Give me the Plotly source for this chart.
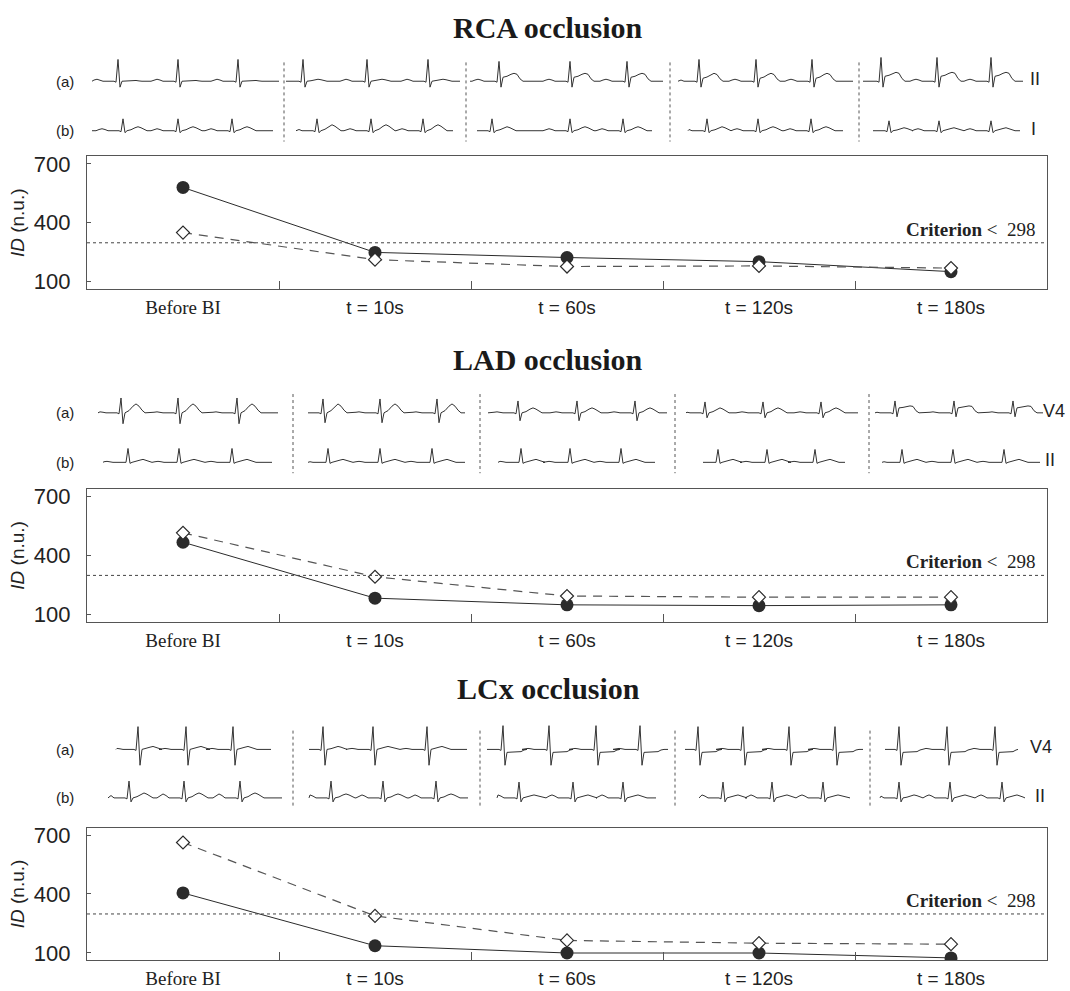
import plotly.graph_objects as go

W, H = 1070, 991

# ---------------- data ----------------
PANEL_TITLES = ["RCA occlusion", "LAD occlusion", "LCx occlusion"]
TIME_LABELS = ["Before BI", "t = 10s", "t = 60s", "t = 120s", "t = 180s"]
Y_TICKS = [100, 400, 700]
CRITERION = 298

RCA_LEAD_A = [580, 249, 223, 202, 151]   # filled circles, solid
RCA_LEAD_B = [350, 212, 177, 180, 169]   # open diamonds, dashed
LAD_LEAD_A = [467, 182, 148, 144, 148]
LAD_LEAD_B = [515, 291, 193, 187, 187]
LCX_LEAD_A = [405, 136, 99, 99, 74]
LCX_LEAD_B = [662, 288, 163, 149, 144]

SERIES_A = [RCA_LEAD_A, LAD_LEAD_A, LCX_LEAD_A]
SERIES_B = [RCA_LEAD_B, LAD_LEAD_B, LCX_LEAD_B]

LEAD_NAMES_A = ["II", "V4", "V4"]
LEAD_NAMES_B = ["I", "II", "II"]

# ECG strips: (start, end, R-peak positions, P, Q, R, S, ST, T)
RCA_ECG_A = [(92, 279, [118, 178, 238], 2, 1, 22, 6, 0, 1),
             (286, 460, [303, 367, 428], 2, 1, 22, 6, 0, 2),
             (470, 663, [499, 570, 627], 2, 1, 20, 6, 4, 4),
             (678, 853, [699, 756, 812], 2, 1, 22, 6, 3, 5),
             (863, 1023, [881, 937, 991], 2, 1, 24, 6, 5, 4)]
RCA_ECG_B = [(92, 273, [123, 178, 232], 2, 1, 12, 2, 0, 4),
             (296, 453, [317, 371, 423], 2, 1, 12, 2, 0, 6),
             (477, 652, [492, 570, 623], 2, 1, 12, 2, 0, 4),
             (688, 843, [707, 758, 811], 2, 1, 12, 2, 0, 4),
             (873, 1020, [889, 939, 991], 2, 1, 10, 2, 0, 3)]
LAD_ECG_A = [(98, 278, [121, 178, 237], 1, 1, 15, 11, 0, 9),
             (308, 465, [323, 380, 437], 1, 1, 14, 10, 0, 9),
             (488, 667, [518, 577, 635], 1, 1, 12, 8, 0, 5),
             (686, 858, [705, 763, 821], 1, 1, 11, 5, 0, 5),
             (875, 1043, [895, 954, 1013], 1, 1, 12, 4, 5, 2)]
LAD_ECG_B = [(103, 272, [128, 179, 232], 1, 0, 14, 1, 0, 3),
             (308, 465, [328, 380, 432], 1, 0, 14, 1, 0, 3),
             (498, 655, [521, 570, 621], 1, 0, 14, 1, 0, 3),
             (703, 845, [718, 767, 815], 1, 0, 13, 1, 0, 3),
             (882, 1040, [902, 953, 1004], 1, 0, 13, 1, 0, 3)]
LCX_ECG_A = [(116, 271, [138, 186, 233], 1, 1, 23, 16, 0, 3),
             (309, 467, [323, 373, 427], 1, 1, 23, 16, 0, 3),
             (487, 668, [503, 549, 596, 640], 1, 1, 24, 16, -3, 1),
             (685, 863, [698, 743, 789, 835], 1, 1, 23, 16, -3, 1),
             (885, 1018, [899, 947, 995], 1, 1, 23, 16, -3, 1)]
LCX_ECG_B = [(108, 282, [129, 184, 240], 4, 1, 17, 4, 0, 5),
             (309, 468, [331, 383, 436], 3, 1, 17, 4, 0, 4),
             (497, 656, [519, 573, 623], 3, 1, 16, 4, 0, 3),
             (699, 850, [723, 772, 823], 3, 1, 16, 4, 0, 3),
             (880, 1025, [899, 950, 1002], 3, 1, 16, 4, 0, 3)]
ECG_ROWS = [(RCA_ECG_A, RCA_ECG_B), (LAD_ECG_A, LAD_ECG_B), (LCX_ECG_A, LCX_ECG_B)]

# ---------------- layout geometry (pixels) ----------------
PLOT_X = (87, 1047)
PLOT_Y = [(153, 287), (489, 623), (831, 965)]
Y_RANGE = (62, 738)
TITLE_Y = [23, 358, 690]
ECG_BASE = [(77, 127), (412, 462), (752, 801)]
SEPARATORS = [([284, 466, 670, 859], 58, 138),
              ([293, 480, 675, 869], 393, 473),
              ([293, 480, 675, 870], 733, 810)]
LEAD_X = [(1035, 1033), (1054, 1050), (1041, 1040)]

INK = "#2b2b2b"
FRAME = "#555555"
SANS = "Liberation Sans"
SERIF = "Liberation Serif"


def pf(px):
    return 1 - px / H


def beat_points(r, P, Q, R, S, ST, T):
    tpl = [(-27, 0), (-24, 0.6 * P), (-21, P), (-18, 0.6 * P), (-15, 0),
           (-4, 0), (-2, -Q), (0, R), (2, -S), (4, ST),
           (8, ST + 0.25 * T), (12, ST + 0.75 * T), (15, ST + T),
           (18, ST + 0.75 * T), (21, 0.3 * (ST + T)), (24, 0)]
    return [(r + dx, a) for dx, a in tpl]


fig = go.Figure()

# ECG canvas (pixel-scaled overlay axes)
for p, rows in enumerate(ECG_ROWS):
    for row, base in zip(rows, ECG_BASE[p]):
        xs, ys = [], []
        for (start, end, beats, P, Q, R, S, ST, T) in row:
            pts = [(start, 0)]
            for r in beats:
                pts += [(x, a) for x, a in beat_points(r, P, Q, R, S, ST, T) if start < x < end]
            pts.append((end, 0))
            xs += [x for x, _ in pts] + [None]
            ys += [base - a for _, a in pts] + [None]
        fig.add_trace(go.Scatter(x=xs, y=ys, mode="lines", xaxis="x4", yaxis="y4",
                                 line=dict(color="#333333", width=1), hoverinfo="skip",
                                 showlegend=False))

tick_text = ['<span style="font-family:%s">%s</span>' % (SERIF, TIME_LABELS[0])] + TIME_LABELS[1:]
xs_cat = list(range(len(TIME_LABELS)))

layout_axes = {}
shapes = []
annotations = []
for p in range(3):
    xa = "x" if p == 0 else "x%d" % (p + 1)
    ya = "y" if p == 0 else "y%d" % (p + 1)
    xkey = "xaxis" if p == 0 else "xaxis%d" % (p + 1)
    ykey = "yaxis" if p == 0 else "yaxis%d" % (p + 1)

    fig.add_trace(go.Scatter(x=xs_cat, y=SERIES_A[p], mode="lines+markers", xaxis=xa, yaxis=ya,
                             line=dict(color=INK, width=1),
                             marker=dict(symbol="circle", size=13, color=INK),
                             showlegend=False))
    fig.add_trace(go.Scatter(x=xs_cat, y=SERIES_B[p], mode="lines+markers", xaxis=xa, yaxis=ya,
                             line=dict(color="#555555", width=1.2, dash="9px,7px"),
                             marker=dict(symbol="diamond", size=10, color="white",
                                         line=dict(color=INK, width=1.2)),
                             showlegend=False))

    y0, y1 = PLOT_Y[p]
    layout_axes[xkey] = dict(domain=[PLOT_X[0] / W, PLOT_X[1] / W], anchor=ya,
                             range=[-0.5, 4.5], tickmode="array", tickvals=xs_cat,
                             ticktext=tick_text, ticks="", showline=True, mirror=True,
                             linecolor=FRAME, linewidth=1.2, showgrid=False, zeroline=False,
                             ticklabelstandoff=1,
                             tickfont=dict(family=SANS, size=19, color="#222222"),
                             minor=dict(tickmode="array", tickvals=[0.5, 1.5, 2.5, 3.5],
                                        ticks="inside", ticklen=8, tickcolor=FRAME,
                                        tickwidth=1, showgrid=False),
                             fixedrange=True)
    layout_axes[ykey] = dict(domain=[pf(y1), pf(y0)], anchor=xa, range=list(Y_RANGE),
                             tickmode="array", tickvals=Y_TICKS, ticks="inside", ticklen=4,
                             tickcolor=FRAME, showline=True, mirror=True, linecolor=FRAME,
                             linewidth=1.2, showgrid=False, zeroline=False,
                             ticklabelstandoff=11,
                             tickfont=dict(family=SANS, size=22, color="#222222"),
                             title=dict(text="<i>ID</i> (n.u.)", standoff=4,
                                        font=dict(family=SANS, size=19, color="#222222")),
                             fixedrange=True)

    # criterion line
    shapes.append(dict(type="line", xref=xa, yref=ya, x0=-0.5, x1=4.5, y0=CRITERION,
                       y1=CRITERION, line=dict(color="#444444", width=1, dash="dot")))
    annotations.append(dict(xref="%s domain" % xa, yref=ya, x=0.99, y=CRITERION,
                            xanchor="right", yanchor="bottom", yshift=1, showarrow=False,
                            text="<b>Criterion</b> &lt;  %d" % CRITERION,
                            font=dict(family=SERIF, size=19, color="#222222")))
    # panel title
    annotations.append(dict(xref="paper", yref="paper", x=548 / W, y=pf(TITLE_Y[p]),
                            xanchor="center", yanchor="middle", showarrow=False,
                            text="<b>%s</b>" % PANEL_TITLES[p],
                            font=dict(family=SERIF, size=30, color="#1a1a1a")))
    # ECG row labels and lead names
    ba, bb = ECG_BASE[p]
    for lab, yy in (("(a)", ba), ("(b)", bb)):
        annotations.append(dict(xref="x4", yref="y4", x=65, y=yy, showarrow=False,
                                xanchor="center", yanchor="middle", text=lab,
                                font=dict(family=SANS, size=15, color="#222222")))
    annotations.append(dict(xref="x4", yref="y4", x=LEAD_X[p][0], y=ba - 2, showarrow=False,
                            xanchor="center", yanchor="middle", text=LEAD_NAMES_A[p],
                            font=dict(family=SANS, size=18, color="#222222")))
    annotations.append(dict(xref="x4", yref="y4", x=LEAD_X[p][1], y=bb - 2, showarrow=False,
                            xanchor="center", yanchor="middle", text=LEAD_NAMES_B[p],
                            font=dict(family=SANS, size=18, color="#222222")))
    # dotted separators between ECG strips
    xs_sep, s0, s1 = SEPARATORS[p]
    for xsep in xs_sep:
        shapes.append(dict(type="line", xref="x4", yref="y4", x0=xsep, x1=xsep, y0=s0, y1=s1,
                           line=dict(color="#555555", width=1, dash="dot")))

layout_axes["xaxis4"] = dict(domain=[0, 1], range=[0, W], visible=False, anchor="y4",
                             fixedrange=True)
layout_axes["yaxis4"] = dict(domain=[0, 1], range=[H, 0], visible=False, anchor="x4",
                             fixedrange=True)

fig.update_layout(width=W, height=H, margin=dict(l=0, r=0, t=0, b=0),
                  paper_bgcolor="white", plot_bgcolor="rgba(0,0,0,0)",
                  showlegend=False, shapes=shapes, annotations=annotations,
                  hovermode=False, **layout_axes)

fig.write_html("out.html", config={"displayModeBar": False},
               post_script="document.body.style.margin='0';document.body.style.overflow='hidden';")
